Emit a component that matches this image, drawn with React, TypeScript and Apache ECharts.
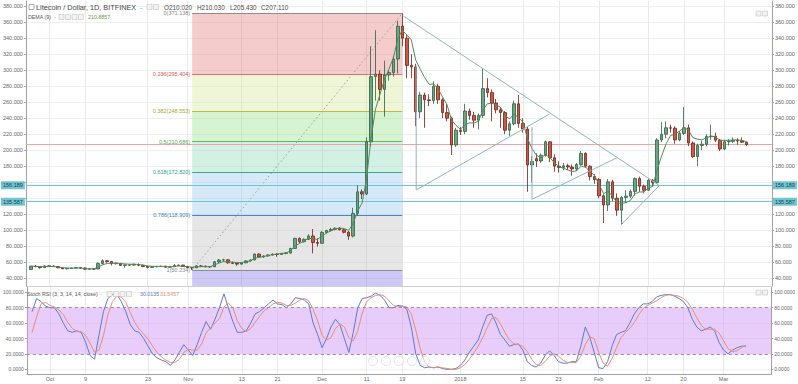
import React, { useEffect, useRef } from 'react';
import * as echarts from 'echarts';

// ---- Data (daily candles, index 0 = 27 Sep 2017 ... index 160 = 6 Mar 2018) ----
const OPEN = [
  50.8,55.0,54.6,53.2,55.4,55.0,54.5,53.0,51.8,52.4,
  52.7,53.2,52.8,51.3,51.6,51.5,58.5,61.8,60.8,58.2,
  58.6,56.0,56.6,56.4,57.3,56.2,54.6,53.5,54.4,54.6,
  55.0,53.8,54.4,55.8,56.4,54.6,53.2,53.0,55.4,54.9,
  54.4,54.3,60.6,62.7,63.0,59.2,58.6,57.6,59.2,61.6,
  62.8,70.2,66.6,67.8,69.0,70.0,69.6,71.0,71.4,77.2,
  89.8,85.6,88.6,92.8,84.6,83.6,97.2,99.6,101.0,102.4,
  100.6,97.4,92.6,121.0,148.0,145.2,210.6,292.0,295.0,276.0,
  294.0,297.0,314.0,355.0,340.0,306.0,304.0,248.0,269.0,263.0,
  262.0,280.0,263.0,247.0,240.0,206.5,225.0,223.5,249.0,243.5,
  237.5,243.5,277.0,272.0,259.0,250.5,247.0,225.0,233.0,258.0,
  233.5,226.5,181.5,189.5,186.5,193.5,210.5,190.5,180.0,178.5,
  180.5,179.0,176.5,182.0,196.0,180.0,167.0,163.5,143.0,131.5,
  160.5,140.0,125.0,141.0,142.5,148.5,164.5,155.0,150.0,162.5,
  159.5,212.8,220.0,228.0,227.5,212.8,221.0,228.0,209.0,192.0,
  206.0,207.5,217.0,217.5,212.5,201.5,210.5,211.0,212.5,211.5,
  210.02,
];
const HIGH = [
  55.5,56.5,55.2,56.0,56.2,56.3,55.0,53.6,52.8,53.2,
  53.6,53.9,53.4,52.5,52.3,59.8,63.5,62.6,61.6,59.5,
  59.0,57.2,57.4,58.2,58.4,56.8,55.5,55.0,55.5,55.6,
  55.5,55.0,57.8,57.2,56.9,55.2,54.0,56.0,56.5,55.8,
  55.0,61.5,64.0,64.2,63.8,60.8,59.6,60.0,62.5,63.4,
  70.8,71.0,68.6,69.8,71.0,71.2,71.6,72.4,78.0,90.5,
  91.0,89.6,95.0,101.5,90.0,99.0,100.5,103.0,103.6,103.8,
  101.6,99.0,128.0,156.0,151.0,216.0,330.0,350.0,300.0,312.0,
  300.0,318.0,362.0,371.138,345.0,320.0,308.0,273.0,272.0,270.0,
  286.0,283.0,265.0,258.0,242.0,228.0,229.0,258.0,252.0,248.0,
  246.0,302.0,290.0,276.0,264.0,254.0,249.0,236.0,262.0,269.0,
  240.0,229.0,192.0,196.0,196.0,212.0,211.0,195.0,186.0,184.0,
  183.0,182.0,184.0,199.0,197.5,181.0,170.0,165.0,145.0,164.0,
  163.0,146.0,142.5,150.0,151.0,166.0,167.0,157.0,164.0,164.0,
  215.0,235.0,236.0,232.0,230.0,224.0,254.0,232.0,211.0,208.0,
  212.0,220.0,232.0,222.0,214.0,213.0,214.0,216.0,215.0,216.0,
  210.03,
];
const LOW = [
  50.5,53.5,51.8,53.0,54.0,54.2,52.5,51.3,51.0,51.8,
  52.0,52.3,50.4,50.8,50.5,51.2,57.2,59.3,56.0,56.8,
  55.4,53.2,55.2,55.5,55.0,53.8,52.2,52.8,53.5,54.0,
  53.2,53.3,53.8,55.2,54.2,52.6,50.234,52.6,54.2,53.6,
  52.8,54.0,59.0,61.0,58.2,57.6,55.6,57.2,58.8,61.0,
  62.4,65.8,65.5,67.0,68.2,66.8,69.2,69.8,71.0,76.8,
  84.0,84.6,87.5,71.0,79.5,83.0,96.2,98.2,99.8,99.6,
  96.0,88.0,91.0,118.0,139.0,143.8,205.0,262.0,262.0,242.0,
  287.0,292.0,296.0,330.0,290.0,290.0,230.0,240.0,228.0,255.0,
  258.0,258.0,240.0,236.0,194.0,204.0,219.0,220.0,238.0,228.0,
  226.0,240.0,266.0,236.0,246.0,228.0,220.0,218.0,231.0,228.0,
  222.0,148.0,160.0,179.0,184.0,192.0,185.0,173.0,172.0,175.0,
  175.0,168.0,174.0,180.5,178.0,162.0,158.0,140.0,109.0,124.0,
  136.0,118.0,107.5,134.0,140.0,143.0,148.0,146.0,149.0,155.0,
  158.5,210.0,215.0,222.0,208.0,211.0,219.0,205.0,190.0,180.0,
  200.0,205.0,213.0,210.0,199.0,200.0,206.0,209.0,207.0,209.0,
  205.43,
];
const CLOSE = [
  55.0,54.6,53.2,55.4,55.0,54.5,53.0,51.8,52.4,52.7,
  53.2,52.8,51.3,51.6,51.5,58.5,61.8,60.8,58.2,58.6,
  56.0,56.6,56.4,57.3,56.2,54.6,53.5,54.4,54.6,55.0,
  53.8,54.4,55.8,56.4,54.6,53.2,53.0,55.4,54.9,54.4,
  54.3,60.6,62.7,63.0,59.2,58.6,57.6,59.2,61.6,62.8,
  70.2,66.6,67.8,69.0,70.0,69.6,71.0,71.4,77.2,89.8,
  85.6,88.6,92.8,84.6,83.6,97.2,99.6,101.0,102.4,100.6,
  97.4,92.6,121.0,148.0,145.2,210.6,292.0,295.0,276.0,294.0,
  297.0,314.0,355.0,340.0,306.0,304.0,248.0,269.0,263.0,262.0,
  280.0,263.0,247.0,240.0,206.5,225.0,223.5,249.0,243.5,237.5,
  243.5,277.0,272.0,259.0,250.5,247.0,225.0,233.0,258.0,233.5,
  226.5,181.5,186.0,186.5,193.5,210.5,190.5,180.0,178.5,180.5,
  179.0,176.5,182.0,196.0,180.0,167.0,163.5,143.0,131.5,160.5,
  140.0,125.0,141.0,142.5,148.5,164.5,155.0,150.0,162.5,159.5,
  212.8,220.0,228.0,227.5,212.8,221.0,228.0,209.0,192.0,206.0,
  207.5,217.0,217.5,212.5,201.5,210.5,211.0,212.5,211.5,210.0,
  207.11,
];

// Stoch RSI (3, 3, 14, 14, close)
const STOCH_K = [
  75,92,88,82,80,80,72,60,50,48,
  50,48,35,18,13,45,75,92,97,97,
  88,75,58,50,48,40,30,20,15,12,
  10,5,12,22,32,25,18,32,48,62,
  52,65,80,98,80,62,48,48,50,60,
  72,75,80,85,90,85,84,80,85,93,
  92,90,85,60,45,28,40,55,65,58,
  40,22,48,80,92,93,95,99,96,90,
  80,80,83,82,78,55,20,5,2,3,
  2,3,1,0,0,1,5,12,22,30,
  38,55,70,72,60,45,38,30,32,33,
  25,10,5,3,8,18,24,18,10,8,
  8,10,10,30,55,42,22,2,1,10,
  30,45,48,50,60,72,80,85,85,88,
  94,96,97,97,95,92,88,80,65,55,
  50,52,55,50,35,25,20,25,28,30,
  30.0135,
];
const STOCH_D = [
  48,68,85,87,83,81,77,71,61,53,
  49,49,44,34,22,25,44,71,88,95,
  94,87,74,61,52,46,39,30,22,16,
  12,9,9,13,22,26,25,25,33,47,
  54,60,66,81,86,80,63,53,49,53,
  61,69,76,80,85,87,86,83,83,86,
  90,92,89,78,63,44,38,41,53,59,
  55,41,37,50,73,88,93,96,97,95,
  89,83,81,82,81,72,51,27,9,3,
  2,3,2,1,0,0,2,6,13,21,
  30,41,54,66,67,59,48,38,33,32,
  30,23,13,6,5,10,17,20,17,12,
  9,9,9,17,32,42,40,22,8,4,
  14,28,41,48,53,61,71,79,83,86,
  89,93,96,97,96,95,92,87,78,67,
  57,52,52,52,47,37,27,23,24,28,
  31.5457,
];

const TICK_IDX = [4, 12, 26, 35, 47, 55, 65, 75, 83, 96, 110, 118, 127, 138, 146, 155];
const TICK_LABELS = ['Oct', '9', '23', 'Nov', '13', '21', 'Dec', '11', '19', '2018', '15', '23', 'Feb', '12', '20', 'Mar'];
const PRICE_TICKS = [40, 60, 80, 100, 120, 140, 160, 180, 200, 220, 240, 260, 280, 300, 320, 340, 360, 380];
// 140 and 160 labels are covered by the highlighted level tags in the reference
const PRICE_LABELS = [40, 60, 80, 100, 120, 180, 200, 220, 240, 260, 280, 300, 320, 340, 360, 380];
const STOCH_TICKS = [0, 20, 40, 60, 80, 100];

// Fibonacci retracement (anchored from 2 Nov low to 19 Dec high)
const FIB_RATIOS = ['0', '0.236', '0.382', '0.5', '0.618', '0.786', '1'];
const FIB_VALUES = [371.138, 295.404, 248.553, 210.686, 172.82, 118.909, 50.234];
const FIB_START = 36;
const FIB_END = 83;

const KEY_LEVELS = [156.189, 135.587];
const LAST_PRICE = 207.11;

// Hand-drawn trend lines: [index, price] vertices
const TREND_MAIN = [[83.3, 367.5], [140.6, 155.5]];
const TREND_TRI1 = [[86.1, 306], [86.1, 150.25], [115.7, 244.5]];
const TREND_TRI2 = [[112.0, 229], [112.0, 138.6], [131.0, 190.6]];
const TREND_TRI3 = [[131.9, 106.6], [140.6, 156.5]];

// ---- Styles ----
const FONT = 'Liberation Sans, Arial, sans-serif';
const X_MIN = -1.18;
const X_MAX = 165.67;
const P_MIN = 30.25;
const P_MAX = 386.5;
const S_MIN = -6.1;
const S_MAX = 106.9;
const FIB_LINE_COLORS = ['#8c8c8c', '#e07070', '#b9b944', '#5cb85c', '#3aa88e', '#4a86c5', '#8c8c8c'];
const FIB_LABEL_COLORS = ['#8a8a8a', '#d9534f', '#a9a935', '#4caf50', '#26a08a', '#3f7fbf', '#8a8a8a'];
const FIB_FILLS = [
  'rgba(226,109,109,0.35)',
  'rgba(209,229,141,0.35)',
  'rgba(138,221,126,0.35)',
  'rgba(126,215,178,0.35)',
  'rgba(138,192,235,0.35)',
  'rgba(184,184,184,0.35)',
  'rgba(112,98,224,0.35)',
];
const K_COLOR = '#5b7bd5';
const D_COLOR = '#e5906f';
const TREND_COLOR = '#8db4c0';
const TEAL = '#6fc6d3';

function ema(src: number[], n: number): number[] {
  const k = 2 / (n + 1);
  const out: number[] = [];
  let prev = src[0];
  src.forEach((v, i) => {
    prev = i === 0 ? v : v * k + prev * (1 - k);
    out.push(prev);
  });
  return out;
}

function buildOption() {
  const e1 = ema(CLOSE, 9);
  const e2 = ema(e1, 9);
  const dema = e1.map((v, i) => [i, 2 * v - e2[i]]);

  const labelMap = new Map<number, string>();
  TICK_IDX.forEach((v, i) => labelMap.set(v, TICK_LABELS[i]));

  const candles = OPEN.map((o, i) => [i, o, CLOSE[i], LOW[i], HIGH[i]]);

  const fibAreas: any[] = [];
  for (let k = 0; k < FIB_VALUES.length; k++) {
    const top = FIB_VALUES[k];
    const bottom = k + 1 < FIB_VALUES.length ? FIB_VALUES[k + 1] : P_MIN;
    fibAreas.push([
      { coord: [FIB_START, top], itemStyle: { color: FIB_FILLS[k] } },
      { coord: [FIB_END, bottom] },
    ]);
  }
  const fibLines = FIB_VALUES.map((v, k) => [
    {
      coord: [FIB_START, v],
      lineStyle: { color: FIB_LINE_COLORS[k], width: 1, type: 'solid' },
      label: {
        show: true,
        position: 'start',
        distance: 2,
        formatter: `${FIB_RATIOS[k]}(${v.toFixed(3)})`,
        color: FIB_LABEL_COLORS[k],
        fontSize: 5.5,
        fontFamily: FONT,
      },
    },
    { coord: [FIB_END, v] },
  ]);

  const levelLines: any[] = [];
  KEY_LEVELS.forEach((v) => {
    ['start', 'end'].forEach((pos) => {
      levelLines.push({
        yAxis: v,
        lineStyle: { color: TEAL, width: 1, type: 'solid' },
        label: {
          show: true,
          position: pos,
          distance: 1,
          formatter: v.toFixed(3),
          backgroundColor: TEAL,
          color: '#1f3c42',
          fontSize: 5.5,
          fontFamily: FONT,
          padding: [1, 2, 1, 2],
        },
      });
    });
  });
  levelLines.push({
    yAxis: LAST_PRICE,
    lineStyle: { color: '#f0a4a4', width: 1, type: 'solid' },
    label: { show: false },
  });

  const axisLabelBase = { fontSize: 5.5, color: '#666', fontFamily: FONT, margin: 3 };

  const trendSeries = [TREND_MAIN, TREND_TRI1, TREND_TRI2, TREND_TRI3].map((pts) => ({
    type: 'line',
    xAxisIndex: 0,
    yAxisIndex: 0,
    data: pts,
    symbol: 'none',
    silent: true,
    z: 5,
    lineStyle: { color: TREND_COLOR, width: 1 },
  }));

  const icons = (x0: number, y: number, n: number) =>
    Array.from({ length: n }, (_, k) => ({
      type: 'rect',
      z: 100,
      shape: { x: x0 + k * 6.5, y: y - 2.5, width: 5, height: 5 },
      style: { fill: '#f3f3f3', stroke: '#c2c2c2', lineWidth: 0.6 },
    }));
  const txt = (x: number, y: number, text: string, fontSize: number, fill: string) => ({
    type: 'text',
    z: 100,
    x,
    y,
    style: { text, fontSize, fill, fontFamily: FONT, verticalAlign: 'middle' },
  });

  const TITLE_Y = 7;

  return {
    animation: false,
    backgroundColor: '#ffffff',
    textStyle: { fontFamily: FONT },
    grid: [
      { left: 25, right: 26, top: 1, height: 285 },
      { left: 25, right: 26, top: 287, height: 87 },
    ],
    xAxis: [
      {
        type: 'value',
        gridIndex: 0,
        min: X_MIN,
        max: X_MAX,
        axisLine: { show: true, onZero: false, lineStyle: { color: '#cfcfcf' } },
        axisTick: { show: false, customValues: TICK_IDX },
        axisLabel: { show: false, customValues: TICK_IDX },
        splitLine: { show: true, lineStyle: { color: '#e9e9e9', width: 1 } },
      },
      {
        type: 'value',
        gridIndex: 1,
        min: X_MIN,
        max: X_MAX,
        axisLine: { show: true, onZero: false, lineStyle: { color: '#a0a0a0' } },
        axisTick: { show: false, customValues: TICK_IDX },
        axisLabel: {
          ...axisLabelBase,
          margin: 2,
          customValues: TICK_IDX,
          formatter: (v: number) => labelMap.get(Math.round(v)) ?? '',
        },
        splitLine: { show: true, lineStyle: { color: '#e9e9e9', width: 1 } },
      },
    ],
    yAxis: [
      {
        type: 'value',
        gridIndex: 0,
        position: 'left',
        min: P_MIN,
        max: P_MAX,
        axisLine: { show: true, onZero: false, lineStyle: { color: '#a0a0a0' } },
        axisTick: { show: true, length: 2, customValues: PRICE_TICKS, lineStyle: { color: '#a0a0a0' } },
        axisLabel: { ...axisLabelBase, customValues: PRICE_LABELS, formatter: (v: number) => v.toFixed(3) },
        splitLine: { show: true, lineStyle: { color: '#eeeeee', width: 1 } },
      },
      {
        type: 'value',
        gridIndex: 0,
        position: 'right',
        min: P_MIN,
        max: P_MAX,
        axisLine: { show: true, onZero: false, lineStyle: { color: '#a0a0a0' } },
        axisTick: { show: true, length: 2, customValues: PRICE_TICKS, lineStyle: { color: '#a0a0a0' } },
        axisLabel: { ...axisLabelBase, customValues: PRICE_LABELS, formatter: (v: number) => v.toFixed(3) },
        splitLine: { show: false },
      },
      {
        type: 'value',
        gridIndex: 1,
        position: 'left',
        min: S_MIN,
        max: S_MAX,
        axisLine: { show: true, onZero: false, lineStyle: { color: '#a0a0a0' } },
        axisTick: { show: true, length: 2, customValues: STOCH_TICKS, lineStyle: { color: '#a0a0a0' } },
        axisLabel: { ...axisLabelBase, fontSize: 5, customValues: STOCH_TICKS, formatter: (v: number) => v.toFixed(4) },
        splitLine: { show: true, lineStyle: { color: '#f1f1f1', width: 1 } },
      },
      {
        type: 'value',
        gridIndex: 1,
        position: 'right',
        min: S_MIN,
        max: S_MAX,
        axisLine: { show: true, onZero: false, lineStyle: { color: '#a0a0a0' } },
        axisTick: { show: true, length: 2, customValues: STOCH_TICKS, lineStyle: { color: '#a0a0a0' } },
        axisLabel: { ...axisLabelBase, fontSize: 5, customValues: STOCH_TICKS, formatter: (v: number) => v.toFixed(4) },
        splitLine: { show: false },
      },
    ],
    series: [
      {
        name: 'fib',
        type: 'line',
        xAxisIndex: 0,
        yAxisIndex: 0,
        z: 1,
        silent: true,
        symbol: 'none',
        data: [[FIB_START, FIB_VALUES[FIB_VALUES.length - 1]], [FIB_END, FIB_VALUES[0]]],
        lineStyle: { color: '#9a9a9a', width: 1, type: [1.5, 2.5] },
        markArea: { silent: true, z: 1, data: fibAreas },
        markLine: { silent: true, z: 2, symbol: 'none', data: [...fibLines, ...levelLines] },
      },
      {
        name: 'LTCUSD',
        type: 'candlestick',
        xAxisIndex: 0,
        yAxisIndex: 0,
        z: 3,
        barWidth: 3,
        data: candles,
        itemStyle: {
          color: '#6ba583',
          color0: '#d75442',
          borderColor: '#2f5e40',
          borderColor0: '#6b2218',
          borderWidth: 0.8,
        },
      },
      {
        name: 'DEMA (9)',
        type: 'line',
        xAxisIndex: 0,
        yAxisIndex: 0,
        z: 4,
        silent: true,
        symbol: 'none',
        data: dema,
        lineStyle: { color: '#4f8a5c', width: 1 },
      },
      ...trendSeries,
      {
        name: '%K',
        type: 'line',
        xAxisIndex: 1,
        yAxisIndex: 2,
        z: 3,
        silent: true,
        symbol: 'none',
        data: STOCH_K.map((v, i) => [i, v]),
        lineStyle: { color: K_COLOR, width: 1 },
        markArea: {
          silent: true,
          z: 1,
          itemStyle: { color: 'rgba(209,155,245,0.5)' },
          data: [[{ yAxis: 20 }, { yAxis: 80 }]],
        },
        markLine: {
          silent: true,
          symbol: 'none',
          label: { show: false },
          lineStyle: { color: '#9a86ab', width: 1, type: [3, 3] },
          data: [{ yAxis: 80 }, { yAxis: 20 }],
        },
      },
      {
        name: '%D',
        type: 'line',
        xAxisIndex: 1,
        yAxisIndex: 2,
        z: 3,
        silent: true,
        symbol: 'none',
        data: STOCH_D.map((v, i) => [i, v]),
        lineStyle: { color: D_COLOR, width: 1 },
      },
    ],
    graphic: [
      { type: 'rect', z: 100, shape: { x: 29, y: TITLE_Y - 2.5, width: 5, height: 5 }, style: { fill: '#fff', stroke: '#8a8a8a', lineWidth: 0.7 } },
      txt(36, TITLE_Y, 'Litecoin / Dollar, 1D, BITFINEX', 7.3, '#4a4a4a'),
      txt(140, TITLE_Y, '-', 7, '#8a8a8a'),
      ...icons(147, TITLE_Y, 2),
      txt(164, TITLE_Y, 'O210.020', 6.4, '#4f4f4f'),
      txt(197, TITLE_Y, 'H210.030', 6.4, '#4f4f4f'),
      txt(230, TITLE_Y, 'L205.430', 6.4, '#4f4f4f'),
      txt(261, TITLE_Y, 'C207.110', 6.4, '#4f4f4f'),
      txt(28, 17, 'DEMA (9)', 5.3, '#555555'),
      txt(54, 17, '-', 5.5, '#8a8a8a'),
      ...icons(59, 17, 4),
      txt(88, 17, '210.8857', 5.3, '#5b9a45'),
      txt(27, 294, 'Stoch RSI (3, 3, 14, 14, close)', 5.3, '#555555'),
      txt(100, 294, '-', 5.5, '#8a8a8a'),
      ...icons(107, 294, 4),
      txt(140, 294, '30.0135', 5.3, K_COLOR),
      txt(160, 294, '31.5457', 5.3, D_COLOR),
      ...icons(756, 13.5, 2),
      ...icons(756, 292.5, 2),
      ...[373, 386, 399, 412, 425].map((cx) => ({
        type: 'circle',
        z: 100,
        shape: { cx, cy: 361, r: 4.5 },
        style: { fill: 'rgba(255,255,255,0.5)', stroke: 'rgba(180,180,180,0.6)', lineWidth: 0.6 },
      })),
    ],
  };
}

export default function App() {
  const ref = useRef<HTMLDivElement>(null);
  useEffect(() => {
    if (!ref.current) return;
    const chart = echarts.init(ref.current, null, { renderer: 'svg' });
    chart.setOption(buildOption() as any);
    return () => chart.dispose();
  }, []);
  return (
    <div
      ref={ref}
      style={{ position: 'fixed', left: 0, top: 0, width: 798, height: 384, background: '#ffffff' }}
    />
  );
}
